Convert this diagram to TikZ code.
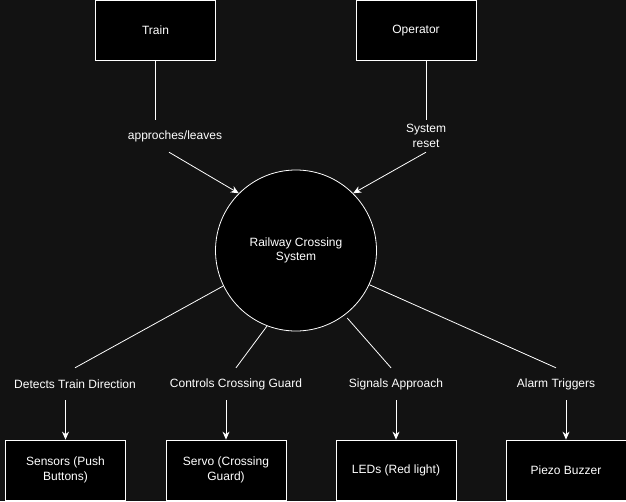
\documentclass[tikz,border=0pt]{standalone}
\usepackage{fontspec}
\setmainfont{Liberation Sans}
\usetikzlibrary{arrows.meta}
\definecolor{bg}{HTML}{121212}

\begin{document}
\begin{tikzpicture}[x=1pt, y=-1pt, >={Stealth[length=8pt,width=7pt]},
  txt/.style={text=white, font=\fontsize{12}{14.5}\selectfont, align=center},
  box/.style={txt, draw=white, fill=black, minimum width=120pt, minimum height=60pt, line width=0.8pt},
  lbl/.style={txt, minimum width=120pt, minimum height=32pt, inner sep=0pt},
  wire/.style={white, line width=0.8pt}]
\useasboundingbox (0,0) rectangle (626,501);
\fill[bg] (0,0) rectangle (626,501);
\node[box] (T) at (155.5,30.5) {Train};
\node[box] (O) at (416,30.5) {Operator};
\node[lbl] (TL) at (175,136) {approches/leaves};
\node[lbl] (OL) at (426,136) {System\\reset};
\node[txt, draw=white, fill=black, circle, minimum size=161pt, line width=0.8pt] (S) at (296,250.5) {Railway Crossing\\System};
\node[lbl] (D) at (75,384) {Detects Train Direction};
\node[lbl] (C) at (236,384) {Controls Crossing Guard};
\node[lbl] (G) at (396,384) {Signals Approach};
\node[lbl] (A) at (556,384) {Alarm Triggers};
\node[box] (Sn) at (65.5,470) {Sensors (Push\\Buttons)};
\node[box] (Sv) at (226,470) {Servo (Crossing\\Guard)};
\node[box] (L) at (396,470) {LEDs (Red light)};
\node[box] (P) at (566,470) {Piezo Buzzer};
\draw[wire] (T.south) -- (T.south |- TL.north);
\draw[wire, ->] ([xshift=-6pt]TL.south) -- (S.north west);
\draw[wire] (O.south -| OL) -- (OL.north);
\draw[wire, ->] (OL.south) -- (S.north east);
\draw[wire] (S.206.6) -- (D.north);
\draw[wire] (S.249.6) -- (C.north);
\draw[wire, shorten <=4pt] (S.307.4) -- ([xshift=-5pt]G.north);
\draw[wire] (S.335.3) -- (A.north);
\draw[wire, ->] (Sn |- D.south) -- (Sn.north);
\draw[wire, ->] (Sv |- C.south) -- (Sv.north);
\draw[wire, ->] (L |- G.south) -- (L.north);
\draw[wire, ->] (P |- A.south) -- (P.north);
\end{tikzpicture}
\end{document}
